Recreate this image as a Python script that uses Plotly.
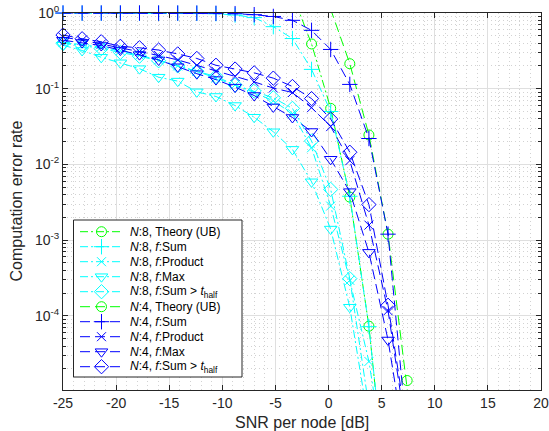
import plotly.graph_objects as go

# SNR per node [dB] at which every curve is evaluated
snr_db = [-25, -23.2, -21.4, -19.6, -17.8, -16, -14.2, -12.4, -10.6, -8.8,
          -7, -5.2, -3.4, -1.6, 0.2, 2.0, 3.8, 5.6, 7.4, 9.2]

# N = 8 nodes
n8_theory = [None, None, None, None, None, None, None, None, None, None,
             None, 8.0, 1.8, 0.39, 0.055, 0.0037, 7.3e-5, 2.5e-7, None, None]
n8_sum = [0.996, 0.996, 0.995, 0.995, 0.994, 0.993, 0.992, 0.99, 0.98, 0.94,
          0.87, 0.66, 0.46, 0.18, 0.05, 0.0038, 7.2e-5, 3e-7, None, None]
n8_product = [0.407, 0.380, 0.355, 0.316, 0.275, 0.240, 0.200, 0.170, 0.138, 0.112,
              0.0891, 0.0692, 0.0468, 0.0166, 0.00282, 2.95e-4, 2.5e-5, 6.3e-7, None, None]
n8_max = [0.375, 0.32, 0.26, 0.22, 0.184, 0.142, 0.126, 0.091, 0.079, 0.060,
          0.042, 0.027, 0.0158, 0.0059, 0.0014, 1.3e-4, 5e-6, 1e-7, None, None]
n8_sum_half = [0.398, 0.372, 0.339, 0.302, 0.269, 0.234, 0.200, 0.170, 0.145, 0.112,
               0.0933, 0.0759, 0.0550, 0.0204, 0.00468, 3.1e-4, 6.3e-6, 1e-8, None, None]

# N = 4 nodes
n4_theory = [None, None, None, None, None, None, None, None, None, None,
             None, None, None, 4.0, 1.12, 0.214, 0.0245, 0.0012, 1.4e-5, 1e-7]
n4_sum = [0.999, 0.999, 0.999, 0.999, 0.999, 0.998, 0.998, 0.997, 0.99, 0.98,
          0.95, 0.90, 0.80, 0.59, 0.33, 0.114, 0.022, 0.0012, 2.5e-6, None]
n4_product = [0.479, 0.437, 0.389, 0.347, 0.309, 0.275, 0.240, 0.204, 0.170, 0.145,
              0.123, 0.102, 0.0891, 0.0562, 0.0316, 0.0112, 0.00158, 1.17e-4, 2.5e-6, None]
n4_max = [0.437, 0.407, 0.372, 0.324, 0.282, 0.240, 0.195, 0.158, 0.132, 0.105,
          0.0813, 0.0575, 0.0417, 0.0272, 0.0117, 0.00437, 6.9e-4, 4.8e-5, 1.3e-6, None]
n4_sum_half = [0.513, 0.457, 0.417, 0.363, 0.347, 0.324, 0.288, 0.251, 0.204, 0.182,
               0.162, 0.138, 0.107, 0.0741, 0.0398, 0.0145, 0.00295, 1.38e-4, 3.2e-6, None]

x_ticks = [-25, -20, -15, -10, -5, 0, 5, 10, 15, 20]
x_tick_text = ["-25", "-20", "-15", "-10", "-5", "0", "5", "10", "15", "20"]
y_ticks = [1e-4, 1e-3, 1e-2, 1e-1, 1]
y_tick_text = ["10<sup>-4</sup>", "10<sup>-3</sup>", "10<sup>-2</sup>",
               "10<sup>-1</sup>", "10<sup>0</sup>"]

Y_MIN, Y_MAX = 1.05e-5, 1.0

GREEN = "#00ff00"
CYAN = "#00ffff"
BLUE = "#0000ff"
DASH = "10px,5px"
DASHDOT = "8px,3px,2px,3px"

series = [
    ("<i>N</i>:8, Theory (UB)", n8_theory, GREEN, DASHDOT, "circle-open", 10),
    ("<i>N</i>:8, <i>f</i>:Sum", n8_sum, CYAN, DASHDOT, "cross-thin-open", 11),
    ("<i>N</i>:8, <i>f</i>:Product", n8_product, CYAN, DASHDOT, "x-thin-open", 9),
    ("<i>N</i>:8, <i>f</i>:Max", n8_max, CYAN, DASHDOT, "triangle-down-open", 11),
    ("<i>N</i>:8, <i>f</i>:Sum &gt; <i>t</i><sub>half</sub>", n8_sum_half, CYAN, DASHDOT, "diamond-open", 11),
    ("<i>N</i>:4, Theory (UB)", n4_theory, GREEN, DASH, "circle-open", 10),
    ("<i>N</i>:4, <i>f</i>:Sum", n4_sum, BLUE, DASH, "cross-thin-open", 11),
    ("<i>N</i>:4, <i>f</i>:Product", n4_product, BLUE, DASH, "x-thin-open", 9),
    ("<i>N</i>:4, <i>f</i>:Max", n4_max, BLUE, DASH, "triangle-down-open", 11),
    ("<i>N</i>:4, <i>f</i>:Sum &gt; <i>t</i><sub>half</sub>", n4_sum_half, BLUE, DASH, "diamond-open", 11),
]

AXIS_COLOR = "#262626"
GRID = "#dfdfdf"
MINOR_GRID = "#d2d2d2"
FONT = "Liberation Sans, Arial, sans-serif"

W, H = 549, 431
M_L, M_R, M_T, M_B = 63, 8, 13, 41
PLOT_W, PLOT_H = W - M_L - M_R, H - M_T - M_B

fig = go.Figure()

for name, ys, color, dash, symbol, size in series:
    # markers are only shown for points inside the y-limits (drawn unclipped,
    # so those sitting on the top axis line stay whole)
    visible = [1 if (v is not None and Y_MIN <= v <= Y_MAX * 1.001) else 0 for v in ys]
    fig.add_trace(go.Scatter(
        x=snr_db, y=ys, mode="lines+markers", name=name, showlegend=False,
        cliponaxis=False, hoverinfo="skip",
        line=dict(color=color, width=1, dash=dash),
        marker=dict(symbol=symbol, size=size, color=color, opacity=visible,
                    line=dict(color=color, width=1)),
    ))

# Compact legend box drawn on a pixel-unit overlay axis pair (x2/y2)
LEG_LEFT, LEG_RIGHT = 10.5, 179.0
LEG_TOP, LEG_BOTTOM = 207.0, 364.0
ROW0, ROW_STEP = 218.7, 15.0
SAMPLE_X0, SAMPLE_X1 = 17.0, 60.0
TEXT_X = 64.5

fig.add_trace(go.Scatter(
    x=[LEG_LEFT, LEG_RIGHT, LEG_RIGHT, LEG_LEFT, LEG_LEFT],
    y=[LEG_TOP, LEG_TOP, LEG_BOTTOM, LEG_BOTTOM, LEG_TOP],
    xaxis="x2", yaxis="y2", mode="lines", fill="toself", fillcolor="white",
    line=dict(color=AXIS_COLOR, width=1), showlegend=False, hoverinfo="skip",
))

for i, (name, ys, color, dash, symbol, size) in enumerate(series):
    row_y = ROW0 + i * ROW_STEP
    fig.add_trace(go.Scatter(
        x=[SAMPLE_X0, SAMPLE_X1], y=[row_y, row_y], xaxis="x2", yaxis="y2",
        mode="lines", line=dict(color=color, width=1, dash=dash),
        showlegend=False, hoverinfo="skip",
    ))
    fig.add_trace(go.Scatter(
        x=[(SAMPLE_X0 + SAMPLE_X1) / 2], y=[row_y], xaxis="x2", yaxis="y2",
        mode="markers", showlegend=False, hoverinfo="skip",
        marker=dict(symbol=symbol, size=size, color=color,
                    line=dict(color=color, width=1)),
    ))
    fig.add_annotation(
        x=TEXT_X, y=row_y, xref="x2", yref="y2", text=name, showarrow=False,
        xanchor="left", yanchor="middle",
        font=dict(family=FONT, size=12, color="black"),
    )

# axis titles, placed at fixed distances from the plot frame
fig.add_annotation(
    x=0.5, xref="paper", y=-(422 - (M_T + PLOT_H)) / PLOT_H, yref="paper",
    text="SNR per node [dB]", showarrow=False, xanchor="center", yanchor="middle",
    font=dict(family=FONT, size=16, color=AXIS_COLOR),
)
fig.add_annotation(
    x=(16 - M_L) / PLOT_W, xref="paper", y=0.5, yref="paper", textangle=-90,
    text="Computation error rate", showarrow=False, xanchor="center", yanchor="middle",
    font=dict(family=FONT, size=16, color=AXIS_COLOR),
)

fig.update_layout(
    width=W, height=H,
    margin=dict(l=M_L, r=M_R, t=M_T, b=M_B),
    paper_bgcolor="white", plot_bgcolor="white",
    font=dict(family=FONT, size=14, color=AXIS_COLOR),
    showlegend=False,
    xaxis=dict(
        range=[-25, 20], tickvals=x_ticks, ticktext=x_tick_text, automargin=False,
        showline=True, linecolor=AXIS_COLOR, linewidth=1, mirror="ticks",
        ticks="inside", ticklen=5, tickcolor=AXIS_COLOR, ticklabelstandoff=0,
        showgrid=True, gridcolor=GRID, gridwidth=1, zeroline=False,
        minor=dict(dtick=1, showgrid=True, gridcolor=MINOR_GRID,
                   griddash="1px,3px", gridwidth=1),
        tickfont=dict(size=14),
    ),
    yaxis=dict(
        type="log", range=[-4.979, 0], tickvals=y_ticks, ticktext=y_tick_text,
        automargin=False,
        showline=True, linecolor=AXIS_COLOR, linewidth=1, mirror="ticks",
        ticks="inside", ticklen=5, tickcolor=AXIS_COLOR,
        showgrid=True, gridcolor=GRID, gridwidth=1, zeroline=False,
        minor=dict(dtick="D1", ticks="inside", ticklen=3, tickcolor=AXIS_COLOR,
                   showgrid=True, gridcolor=MINOR_GRID, griddash="1px,3px", gridwidth=1),
        tickfont=dict(size=14),
    ),
    xaxis2=dict(overlaying="x", range=[0, PLOT_W], visible=False, fixedrange=True),
    yaxis2=dict(overlaying="y", range=[PLOT_H, 0], visible=False, fixedrange=True),
)

fig.write_html("out.html")
